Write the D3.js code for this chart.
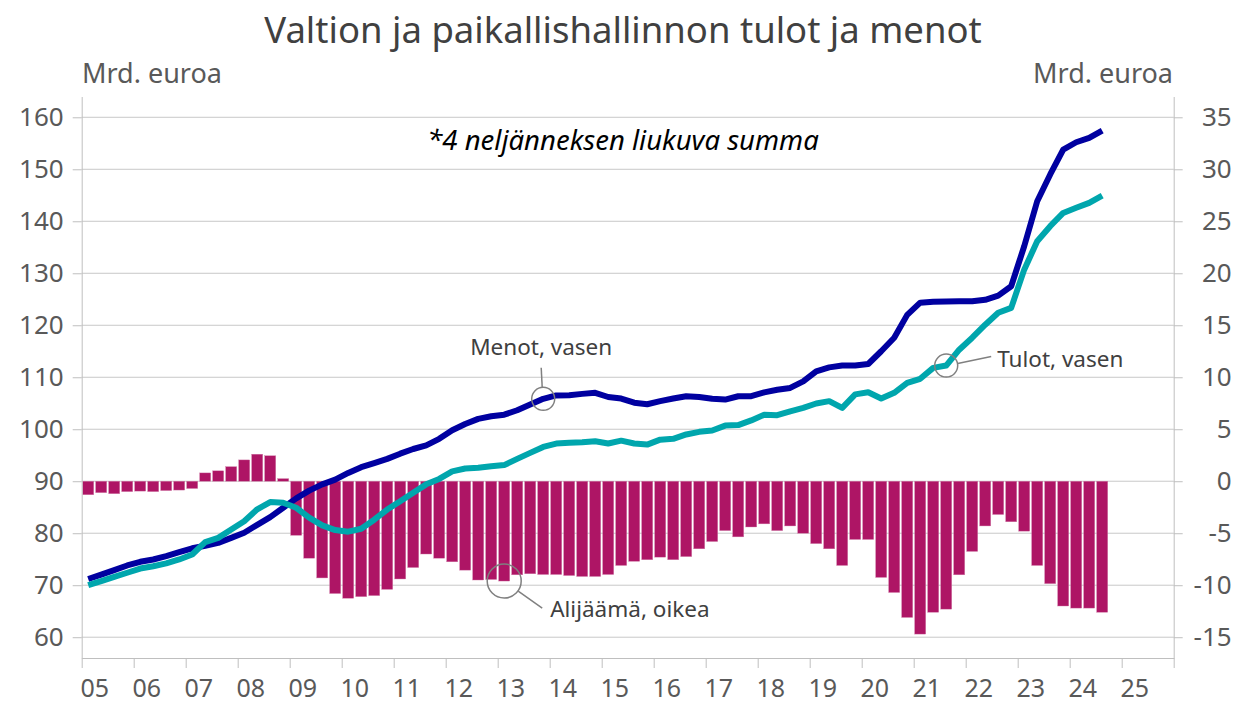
<!DOCTYPE html>
<html lang="fi">
<head>
    <meta charset="UTF-8">
    <title>Valtion ja paikallishallinnon tulot ja menot</title>
    <script src="https://d3js.org/d3.v7.min.js"></script>
    <style>
        body { margin: 0; background: #fff; }
        svg text { font-family: "Noto Sans", "Open Sans", sans-serif; }
        .axis path, .axis line { stroke: #bfbfbf; }
        .axis text { fill: #595959; font-size: 26px; }
    </style>
</head>
<body>
<svg id="chart" width="1239" height="704"></svg>

<script>
    // quarterly data, 4 quarter moving sum, 2005Q1 - 2024Q3
    const firstYear = 2005;
    const yearLabels = ["05","06","07","08","09","10","11","12","13","14","15",
        "16","17","18","19","20","21","22","23","24","25"];

    // Menot, vasen (mrd. euroa)
    const menot = [71.2, 72.05, 72.9, 73.8, 74.5, 74.95, 75.6, 76.35, 77.1, 77.6,
        78.15, 79.1, 80.1, 81.6, 83.1, 84.9, 86.7, 88.2, 89.4, 90.3,
        91.6, 92.7, 93.5, 94.3, 95.3, 96.2, 96.9, 98.15, 99.8, 101.0,
        102.0, 102.5, 102.8, 103.65, 104.75, 105.85, 106.5, 106.55, 106.8, 107.0,
        106.2, 105.9, 105.1, 104.8, 105.4, 105.9, 106.35, 106.2, 105.85, 105.7,
        106.35, 106.35, 107.1, 107.6, 107.95, 109.2, 111.15, 111.9, 112.25, 112.25,
        112.55, 115.0, 117.6, 122.0, 124.35, 124.5, 124.55, 124.6, 124.6, 124.9,
        125.7, 127.5, 135.2, 143.85, 149.0, 153.8, 155.2, 156.05, 157.45];

    // Tulot, vasen (mrd. euroa)
    const tulot = [70.0, 70.8, 71.6, 72.4, 73.2, 73.65, 74.2, 74.95, 75.9, 78.3,
        79.1, 80.7, 82.3, 84.6, 86.0, 85.85, 84.9, 83.0, 81.5, 80.6,
        80.3, 80.85, 82.6, 84.55, 86.15, 87.8, 89.4, 90.45, 91.9, 92.45,
        92.6, 92.9, 93.1, 94.3, 95.45, 96.6, 97.25, 97.4, 97.5, 97.7,
        97.25, 97.8, 97.25, 97.05, 98.0, 98.15, 99.0, 99.5, 99.75, 100.7,
        100.8, 101.7, 102.8, 102.7, 103.45, 104.1, 104.95, 105.4, 104.1, 106.7,
        107.1, 105.9, 107.0, 108.9, 109.7, 111.8, 112.25, 115.3, 117.6, 120.1,
        122.4, 123.35, 130.7, 136.15, 139.05, 141.6, 142.6, 143.55, 144.95];

    // Alijäämä, oikea (mrd. euroa)
    const alijaama = [-1.3, -1.1, -1.2, -1.0, -0.95, -1.0, -0.9, -0.85, -0.7, 0.8,
        1.0, 1.4, 2.05, 2.6, 2.45, 0.25, -5.2, -7.4, -9.3, -10.8,
        -11.25, -11.1, -11.0, -10.4, -9.4, -8.3, -7.0, -7.4, -7.75, -8.55,
        -9.5, -9.45, -9.6, -9.0, -8.9, -8.97, -8.97, -9.07, -9.16, -9.16,
        -8.97, -8.1, -7.7, -7.55, -7.3, -7.55, -7.25, -6.5, -5.8, -4.75,
        -5.35, -4.4, -4.1, -4.75, -4.3, -5.0, -6.0, -6.5, -8.1, -5.6,
        -5.6, -9.25, -10.7, -13.1, -14.7, -12.6, -12.3, -9.0, -6.75, -4.3,
        -3.2, -3.9, -4.8, -8.1, -9.85, -12.0, -12.2, -12.2, -12.6];

    const leftTicks = [60, 70, 80, 90, 100, 110, 120, 130, 140, 150, 160];
    const rightTicks = [-15, -10, -5, 0, 5, 10, 15, 20, 25, 30, 35];

    const svg = d3.select("#chart");

    const plotLeft = 81.7, plotRight = 1173.7;
    const plotTop = 96.5, plotBottom = 658;

    // all quarter slots on the axis, 2005Q1 .. 2025Q4
    const slots = [];
    yearLabels.forEach(function (y, i) {
        for (let q = 1; q <= 4; q++) slots.push((firstYear + i) + "Q" + q);
    });
    const data = alijaama.map(function (d, i) {
        return {q: slots[i], ali: d, menot: menot[i], tulot: tulot[i]};
    });

    const x = d3.scaleBand().domain(slots)
        .range([plotLeft, plotRight])
        .paddingInner(0.15).paddingOuter(0.075);
    const xYear = d3.scaleLinear()
        .domain([firstYear, firstYear + yearLabels.length])
        .range([plotLeft, plotRight]);
    const yL = d3.scaleLinear().domain([56, 164]).range([plotBottom, plotTop]);
    const yR = d3.scaleLinear().domain([-17, 37]).range([plotBottom, plotTop]);
    const xc = d => x(d.q) + x.bandwidth() / 2;

    // gridlines
    svg.append("g")
        .selectAll("line")
        .data(leftTicks)
        .join("line")
        .attr("x1", plotLeft).attr("x2", plotRight)
        .attr("y1", d => yL(d)).attr("y2", d => yL(d))
        .attr("stroke", "#c8c8c8")
        .attr("stroke-width", 1);

    // bars
    svg.append("g")
        .selectAll("rect")
        .data(data)
        .join("rect")
        .attr("x", d => x(d.q))
        .attr("width", x.bandwidth())
        .attr("y", d => Math.min(yR(d.ali), yR(0)))
        .attr("height", d => Math.abs(yR(d.ali) - yR(0)))
        .attr("fill", "#ae1565")
        .attr("stroke", "#d27fab")
        .attr("stroke-width", 0.4);

    // axes
    const axL = svg.append("g").attr("class", "axis")
        .attr("transform", `translate(${plotLeft},0)`)
        .call(d3.axisLeft(yL).tickValues(leftTicks).tickSize(9).tickSizeOuter(0).tickPadding(9));
    axL.selectAll(".tick line").attr("stroke", "#595959");

    const axR = svg.append("g").attr("class", "axis")
        .attr("transform", `translate(${plotRight},0)`)
        .call(d3.axisRight(yR).tickValues(rightTicks).tickSize(9).tickSizeOuter(0)
            .tickFormat(d => d));
    axR.selectAll(".tick line").attr("stroke", "#595959");
    axR.selectAll(".tick text").attr("text-anchor", "end").attr("x", 58);

    const axB = svg.append("g").attr("class", "axis")
        .attr("transform", `translate(0,${plotBottom})`)
        .call(d3.axisBottom(xYear)
            .tickValues(d3.range(firstYear, firstYear + yearLabels.length + 1))
            .tickSize(10).tickSizeOuter(0).tickFormat(""));
    axB.selectAll(".tick line").attr("stroke", "#595959");

    svg.append("g")
        .selectAll("text")
        .data(yearLabels)
        .join("text")
        .attr("x", (d, i) => xYear(firstYear + i + 0.25))
        .attr("y", 697)
        .attr("text-anchor", "middle")
        .attr("fill", "#595959")
        .attr("font-size", 25)
        .text(d => d);

    // lines
    const lineMenot = d3.line().x(xc).y(d => yL(d.menot));
    const lineTulot = d3.line().x(xc).y(d => yL(d.tulot));

    svg.append("path").datum(data)
        .attr("d", lineMenot)
        .attr("fill", "none")
        .attr("stroke", "#0000a0")
        .attr("stroke-width", 6)
        .attr("stroke-linejoin", "round");

    svg.append("path").datum(data)
        .attr("d", lineTulot)
        .attr("fill", "none")
        .attr("stroke", "#00a6ad")
        .attr("stroke-width", 6)
        .attr("stroke-linejoin", "round");

    // titles
    svg.append("text")
        .attr("x", 623).attr("y", 43)
        .attr("text-anchor", "middle")
        .attr("font-size", 36.5)
        .attr("fill", "#404040")
        .text("Valtion ja paikallishallinnon tulot ja menot");

    svg.append("text")
        .attr("x", 82).attr("y", 83)
        .attr("font-size", 27)
        .attr("fill", "#595959")
        .text("Mrd. euroa");

    svg.append("text")
        .attr("x", 1173).attr("y", 83)
        .attr("text-anchor", "end")
        .attr("font-size", 27)
        .attr("fill", "#595959")
        .text("Mrd. euroa");

    svg.append("text")
        .attr("x", 623).attr("y", 150)
        .attr("text-anchor", "middle")
        .attr("font-size", 27.5)
        .attr("font-style", "italic")
        .attr("fill", "#000")
        .text("*4 neljänneksen liukuva summa");

    // annotations
    const iMenot = 35, iTulot = 66, iAli = 32;
    const note = svg.append("g").attr("fill", "none").attr("stroke", "#808080").attr("stroke-width", 1.5);
    const pm = data[iMenot], pt = data[iTulot], pa = data[iAli];
    const mX = xc(pm), mY = yL(pm.menot);
    const tX = xc(pt), tY = yL(pt.tulot);
    const aX = xc(pa), aY = yR(pa.ali);

    note.append("circle").attr("cx", mX).attr("cy", mY).attr("r", 11.5);
    note.append("line").attr("x1", mX - 1).attr("y1", mY - 11.5).attr("x2", mX - 2).attr("y2", mY - 31);
    note.append("circle").attr("cx", tX).attr("cy", tY).attr("r", 11.5);
    note.append("line").attr("x1", tX + 11.5).attr("y1", tY - 2).attr("x2", tX + 45).attr("y2", tY - 9);
    note.append("circle").attr("cx", aX).attr("cy", aY).attr("r", 17);
    note.append("line").attr("x1", aX + 14).attr("y1", aY + 10).attr("x2", aX + 38).attr("y2", aY + 27);

    const labels = svg.append("g").attr("font-size", 22.5).attr("fill", "#404040");
    labels.append("text").attr("x", mX - 2).attr("y", 355).attr("text-anchor", "middle").text("Menot, vasen");
    labels.append("text").attr("x", tX + 51).attr("y", 367).text("Tulot, vasen");
    labels.append("text").attr("x", aX + 46).attr("y", 617).text("Alijäämä, oikea");
</script>
</body>
</html>
